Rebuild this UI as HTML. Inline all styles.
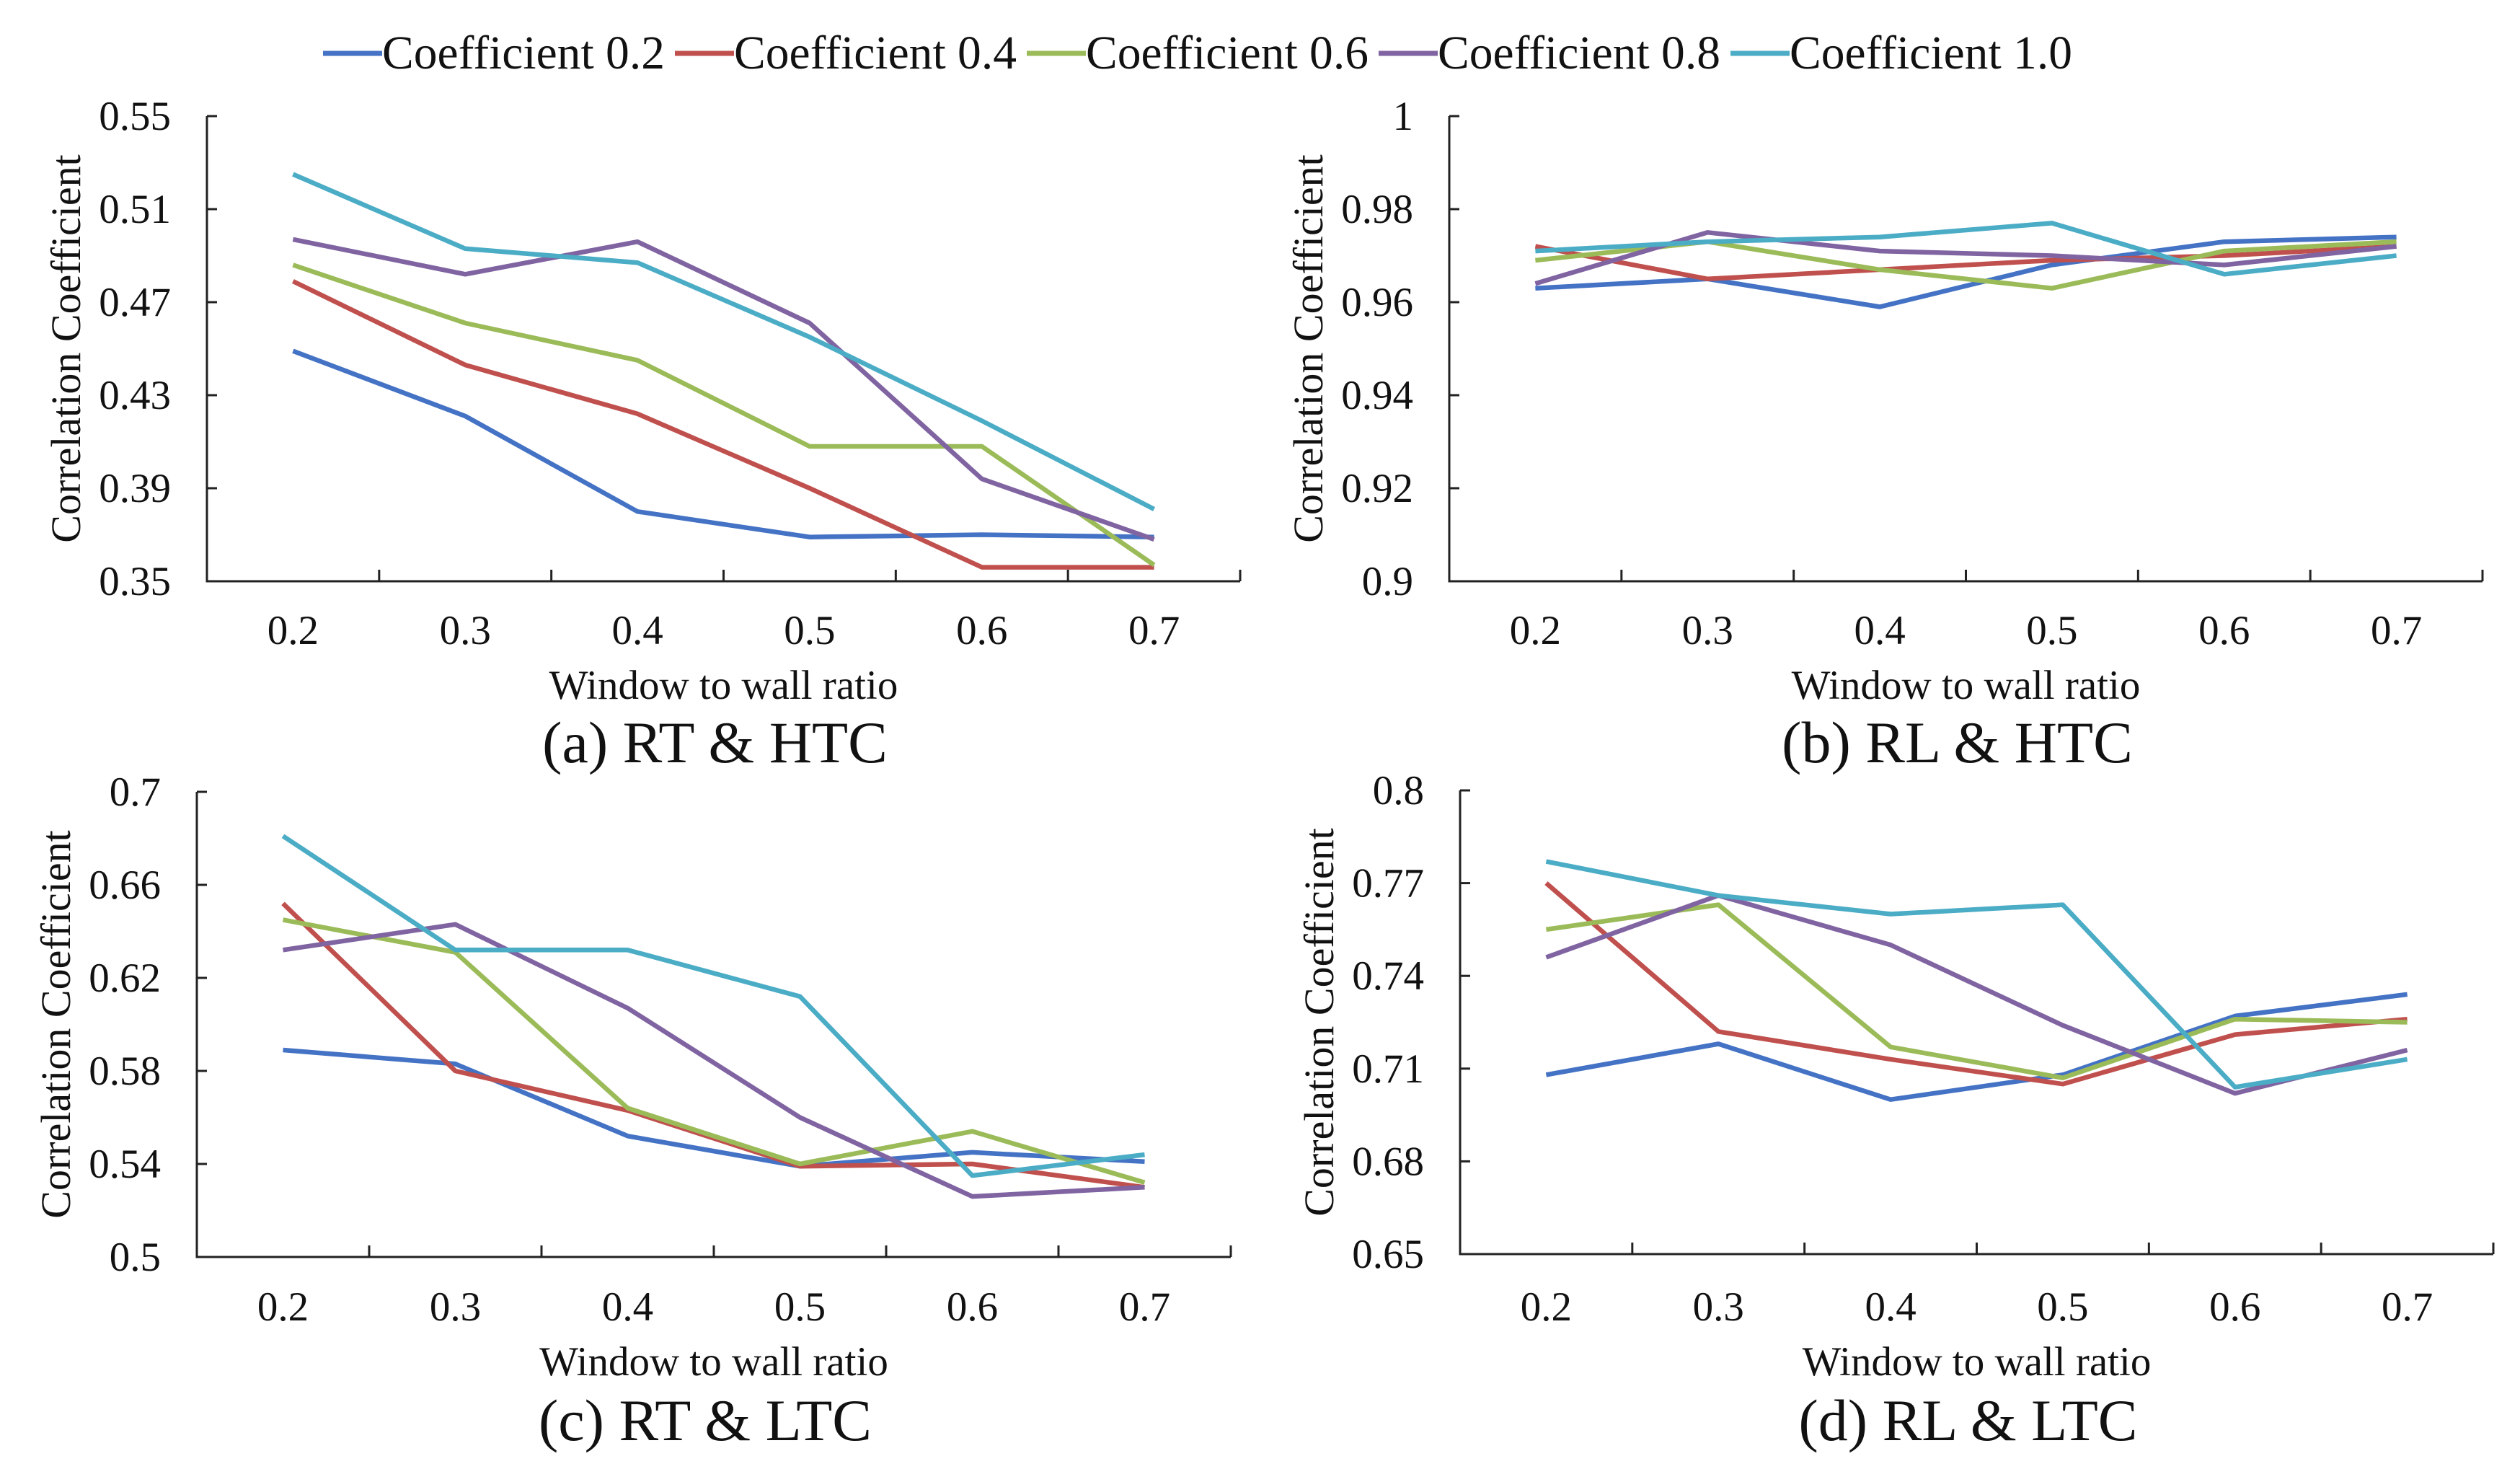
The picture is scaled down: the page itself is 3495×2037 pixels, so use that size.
<!DOCTYPE html>
<html><head><meta charset="utf-8"><style>
html,body{margin:0;padding:0;background:#fff;}
svg{display:block;font-family:"Liberation Serif",serif;}
</style></head><body>
<svg id="chart" width="3495" height="2037" viewBox="0 0 3495 2037" xmlns="http://www.w3.org/2000/svg">
<g id="legend"></g>
</svg>
<script>
const categories = ["0.2","0.3","0.4","0.5","0.6","0.7"];
const seriesNames = ["Coefficient 0.2","Coefficient 0.4","Coefficient 0.6","Coefficient 0.8","Coefficient 1.0"];
const colors = ["#4472C4","#C0504D","#9BBB59","#8064A2","#4BACC6"];

const ticksA = ["0.35","0.39","0.43","0.47","0.51","0.55"];
const a02 = [0.449,0.421,0.380,0.369,0.370,0.369];
const a04 = [0.479,0.443,0.422,0.390,0.356,0.356];
const a06 = [0.486,0.461,0.445,0.408,0.408,0.357];
const a08 = [0.497,0.482,0.496,0.461,0.394,0.368];
const a10 = [0.525,0.493,0.487,0.455,0.419,0.381];

const ticksB = ["0.9","0.92","0.94","0.96","0.98","1"];
const b02 = [0.963,0.965,0.959,0.968,0.973,0.974];
const b04 = [0.972,0.965,0.967,0.969,0.970,0.972];
const b06 = [0.969,0.973,0.967,0.963,0.971,0.973];
const b08 = [0.964,0.975,0.971,0.970,0.968,0.972];
const b10 = [0.971,0.973,0.974,0.977,0.966,0.970];

const ticksC = ["0.5","0.54","0.58","0.62","0.66","0.7"];
const c02 = [0.589,0.583,0.552,0.539,0.545,0.541];
const c04 = [0.652,0.580,0.563,0.539,0.540,0.530];
const c06 = [0.645,0.631,0.564,0.540,0.554,0.532];
const c08 = [0.632,0.643,0.607,0.560,0.526,0.530];
const c10 = [0.681,0.632,0.632,0.612,0.535,0.544];

const ticksD = ["0.65","0.68","0.71","0.74","0.77","0.8"];
const d02 = [0.708,0.718,0.700,0.708,0.727,0.734];
const d04 = [0.770,0.722,0.713,0.705,0.721,0.726];
const d06 = [0.755,0.763,0.717,0.707,0.726,0.725];
const d08 = [0.746,0.766,0.750,0.724,0.702,0.716];
const d10 = [0.777,0.766,0.760,0.763,0.704,0.713];

const NS = "http://www.w3.org/2000/svg";
const svg = document.getElementById("chart");
function mk(tag, attrs, parent, text){
  const e = document.createElementNS(NS, tag);
  for (const k in attrs) e.setAttribute(k, attrs[k]);
  if (text !== undefined) e.textContent = text;
  parent.appendChild(e);
  return e;
}

const panels = [
  {id:"a", x0:287, x1:1720, y0:161, y1:806, ticks:ticksA, series:[a02,a04,a06,a08,a10], caption:"(a) RT & HTC", xl:874, xt:950, cap:1030},
  {id:"b", x0:2010, x1:3443, y0:161, y1:806, ticks:ticksB, series:[b02,b04,b06,b08,b10], caption:"(b) RL & HTC", xl:874, xt:950, cap:1030},
  {id:"c", x0:273, x1:1707, y0:1098, y1:1743, ticks:ticksC, series:[c02,c04,c06,c08,c10], caption:"(c) RT & LTC", xl:1812, xt:1888, cap:1970},
  {id:"d", x0:2025, x1:3458, y0:1096, y1:1739, ticks:ticksD, series:[d02,d04,d06,d08,d10], caption:"(d) RL & LTC", xl:1812, xt:1888, cap:1970}
];

panels.forEach(p => {
  const g = mk("g", {}, svg);
  
  
  const lo = parseFloat(p.ticks[0]), hi = parseFloat(p.ticks[p.ticks.length-1]);
  const band = (p.x1 - p.x0) / categories.length;
  const xs = i => p.x0 + band * (i + 0.5);
  const ys = v => p.y1 - (v - lo) / (hi - lo) * (p.y1 - p.y0);

  const ax = mk("path", {d:`M${p.x0},${p.y0} V${p.y1} H${p.x1}`, fill:"none", stroke:"#222", "stroke-width":3}, g);
  
  
  p.ticks.forEach(t => {
    const y = ys(parseFloat(t));
    mk("line", {x1:p.x0, x2:p.x0+14, y1:y, y2:y, stroke:"#222", "stroke-width":3}, g);
    const tl = mk("text", {x:p.x0-50, y:y+19, "text-anchor":"end", "font-size":57, fill:"#111"}, g, t);
    
    
  });
  for (let i = 1; i <= categories.length; i++) {
    const x = p.x0 + band * i;
    mk("line", {x1:x, x2:x, y1:p.y1, y2:p.y1-16, stroke:"#222", "stroke-width":3}, g);
  }
  categories.forEach((c, i) => {
    const tl = mk("text", {x:xs(i), y:p.xl+19, "text-anchor":"middle", "font-size":57, fill:"#111"}, g, c);
    
    
  });
  const cx = (p.x0+p.x1)/2;
  const xt = mk("text", {x:cx, y:p.xt+19, "text-anchor":"middle", "font-size":57, fill:"#111"}, g, "Window to wall ratio");
  
  
  const ytx = p.x0 - 176, yty = (p.y0 + p.y1)/2;
  const yt = mk("text", {x:ytx, y:yty, "text-anchor":"middle", "font-size":58, fill:"#111", transform:`rotate(-90 ${ytx} ${yty})`}, g, "Correlation Coefficient");
  
  
  const cp = mk("text", {x:cx-12, y:p.cap+27, "text-anchor":"middle", "font-size":82, fill:"#111"}, g, p.caption);
  
  

  p.series.forEach((vals, si) => {
    const pts = vals.map((v, i) => xs(i).toFixed(1) + "," + ys(v).toFixed(1)).join(" ");
    const pl = mk("polyline", {points:pts, fill:"none", stroke:colors[si], "stroke-width":6.5, "stroke-linejoin":"round"}, g);
    
    
  });
});

const lg = document.getElementById("legend");
seriesNames.forEach((n, i) => {
  const x = 448 + i * 488;
  const eg = mk("g", {}, lg);
  
  
  mk("line", {x1:x, x2:x+82, y1:74, y2:74, stroke:colors[i], "stroke-width":7}, eg);
  mk("text", {x:x+82, y:95, "font-size":66, "textLength":392, "lengthAdjust":"spacingAndGlyphs", fill:"#111"}, eg, n);
});
</script>
</body></html>
